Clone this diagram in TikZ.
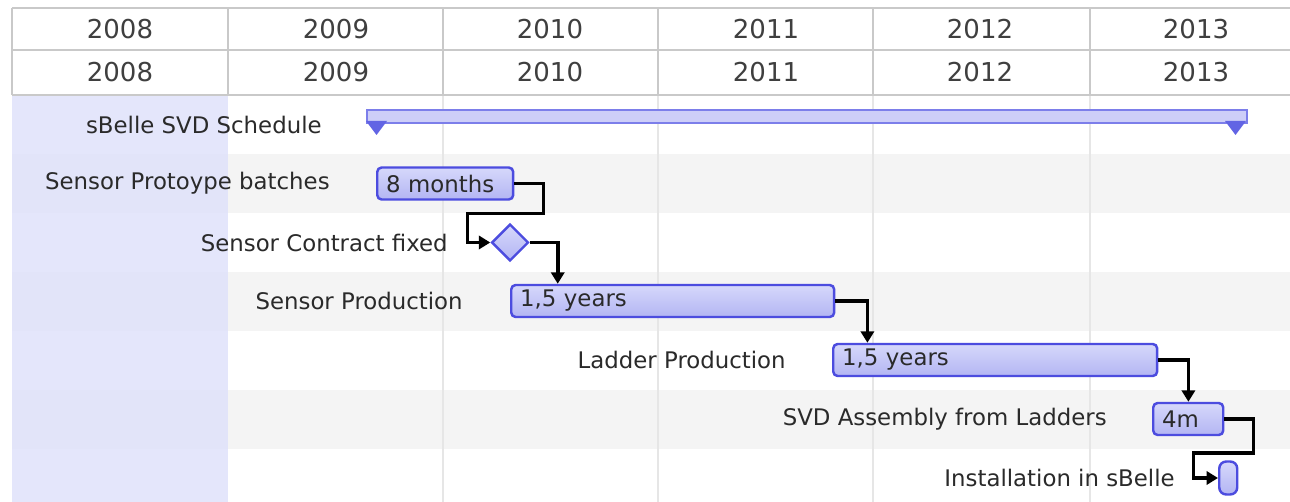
\documentclass[tikz,border=0pt]{standalone}
\usepackage{fontspec}
\setmainfont{DejaVu Sans}
\usetikzlibrary{shapes.geometric,arrows.meta}
\definecolor{grid}{HTML}{C9C9C9}
\definecolor{lgrid}{HTML}{E6E6E6}
\definecolor{stripe}{HTML}{F4F4F4}
\definecolor{band}{HTML}{E0E2FB}
\definecolor{barfillT}{HTML}{D6D8FB}
\definecolor{barfillB}{HTML}{B3B5F3}
\definecolor{barline}{HTML}{4C4CDF}
\definecolor{sumfill}{HTML}{CDCEF8}
\definecolor{sumline}{HTML}{7C7EEA}
\definecolor{sumtri}{HTML}{6264E4}
\definecolor{txt}{HTML}{2A2A2A}
\tikzset{
  x=0.02cm, y=-0.02cm,
  year/.style={text=txt!90, font=\fontsize{14.8}{17}\selectfont, inner sep=0pt},
  lbl/.style={anchor=east, text=txt, font=\fontsize{13}{15}\selectfont, inner sep=0pt},
  bar/.style={anchor=west, draw=barline, line width=1.4pt, rounded corners=2.5pt,
    top color=barfillT, bottom color=barfillB, minimum height=0.64cm,
    inner xsep=5pt, inner ysep=0pt, align=left, text=txt, font=\fontsize{13}{15}\selectfont},
  conn/.style={draw=black, line width=2.1pt, -{Triangle[length=6.5pt,width=7.5pt]}},
}
\begin{document}
\begin{tikzpicture}
\useasboundingbox (0,0) rectangle (1290,502);
\fill[white] (0,0) rectangle (1290,502);
% stripes
\foreach \t in {154,272,390}{\fill[stripe] (12,\t) rectangle (1290,\t+59);}
\fill[band, opacity=0.85] (12,95) rectangle (228,502);
% grid lines
\foreach \xx in {443,658,873,1090}{\draw[lgrid, line width=0.6pt] (\xx,95) -- (\xx,502);}
% header
\draw[grid, line width=0.8pt] (12,8) -- (1290,8) (12,50) -- (1290,50) (12,95) -- (1290,95);
\foreach \xx in {12,228,443,658,873,1090}{\draw[grid, line width=0.8pt] (\xx,8) -- (\xx,95);}
\foreach \c/\yr [count=\i] in {120/2008,336/2009,550/2010,766/2011,980/2012,1196/2013}{
  \node[year] (ya\i) at (\c,29) {\yr};
  \node[year] (yb\i) at (\c,72) {\yr};
}
% summary
\node[draw=sumline, fill=sumfill, line width=1pt, minimum width=17.6cm, minimum height=0.26cm, inner sep=0pt, anchor=west] (sum) at (366,116.5) {};
\fill[sumtri] (366,121) -- (387,121) -- (376.5,135) -- cycle;
\fill[sumtri] (1225,121) -- (1246,121) -- (1235.5,135) -- cycle;
\node[lbl] (lsum) at (322,125) {sBelle SVD Schedule};
% tasks
\node[bar, minimum width=2.72cm, text width={2.72cm-10pt}] (proto) at (376,183.5) {8 months};
\node[lbl] (lproto) at (330,183.5) {Sensor Protoype batches};
\node[diamond, draw=barline, line width=1.4pt, top color=barfillT, bottom color=barfillB, minimum width=0.74cm, minimum height=0.74cm, inner sep=0pt] (dia) at (510,242.5) {};
\node[lbl] (ldia) at (448,242.5) {Sensor Contract fixed};
\node[bar, minimum width=6.46cm, text width={6.46cm-10pt}] (prod) at (510,301) {1,5 years};
\node[lbl] (lprod) at (463,301) {Sensor Production};
\node[bar, minimum width=6.48cm, text width={6.48cm-10pt}] (lad) at (832,360) {1,5 years};
\node[lbl] (llad) at (786,360) {Ladder Production};
\node[bar, minimum width=1.4cm, text width={1.4cm-10pt}] (asm) at (1152,419) {4m};
\node[lbl] (lasm) at (1107,419) {SVD Assembly from Ladders};
\node[anchor=west, draw=barline, line width=1.4pt, rounded corners=4pt, top color=barfillT, bottom color=barfillB, minimum width=0.36cm, minimum height=0.66cm, inner sep=0pt] (inst) at (1218,478) {};
\node[lbl] (linst) at (1175,478) {Installation in sBelle};
% connectors
\draw[conn] (proto.east) -| ++(29,30) -| ++(-76,29) -- (dia.west);
\draw[conn] (dia.east) -- ++(28,0) coordinate (c2) -- (c2 |- prod.north);
\draw[conn] (prod.east) -- ++(32,0) coordinate (c3) -- (c3 |- lad.north);
\draw[conn] (lad.east) -- ++(30,0) coordinate (c4) -- (c4 |- asm.north);
\draw[conn] (asm.east) -| ++(29,34) -| ++(-60,25) -- (inst.west);
\end{tikzpicture}
\end{document}
